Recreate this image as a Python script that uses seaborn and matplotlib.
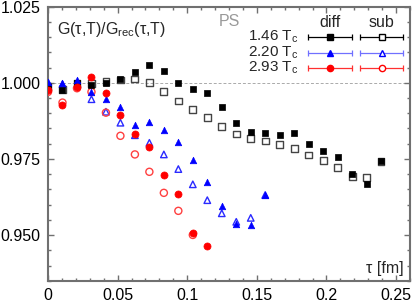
# %%
# 1. Import packages

import pandas as pd
import matplotlib
matplotlib.use("Agg")
import matplotlib.pyplot as plt
from matplotlib.ticker import MultipleLocator, FormatStrFormatter
import seaborn as sns

sns.set_style("ticks")
plt.rcParams['font.family'] = ['Liberation Sans', 'DejaVu Sans']
plt.rcParams['mathtext.fontset'] = 'custom'
plt.rcParams['mathtext.rm'] = 'Liberation Sans'
plt.rcParams['mathtext.it'] = 'Liberation Sans:italic'

# %%
# 2. Data

tau = [0.0, 0.0104, 0.0208, 0.0312, 0.0416, 0.0520, 0.0624, 0.0728,
       0.0832, 0.0936, 0.1040, 0.1144, 0.1248, 0.1352, 0.1456, 0.1560,
       0.1664, 0.1768, 0.1872, 0.1976, 0.2080, 0.2184, 0.2288, 0.2392]

# 1.46 Tc
t146_diff = [0.9987, 0.9975, 0.9998, 0.9992, 0.9998, 1.0011, 1.0035, 1.0058,
             1.0039, 1.0000, 0.9978, 0.9965, 0.9919, 0.9869, 0.9839, 0.9834,
             0.9830, 0.9834, 0.9799, 0.9777, 0.9757, 0.9700, 0.9668, 0.9743]
t146_sub = [0.9987, 0.9978, 0.9998, 0.9997, 1.0003, 1.0009, 1.0012, 1.0000,
            0.9970, 0.9940, 0.9913, 0.9887, 0.9856, 0.9832, 0.9818, 0.9809,
            0.9798, 0.9785, 0.9763, 0.9744, 0.9723, 0.9692, 0.9689, 0.9743]

# 2.20 Tc
t220_diff = [1.0003, 0.9998, 1.0009, 0.9970, 0.9948, 0.9919, 0.9863, 0.9872,
             0.9845, 0.9807, 0.9747, 0.9675, 0.9597, 0.9537, 0.9533, 0.9632]
t220_sub = [0.9998, 0.9995, 0.9990, 0.9946, 0.9905, 0.9869, 0.9828, 0.9803,
            0.9765, 0.9717, 0.9667, 0.9615, 0.9572, 0.9544, 0.9557, 0.9632]

# 2.93 Tc
t293_diff = [0.9976, 0.9926, 0.9985, 1.0018, 0.9965, 0.9894, 0.9832, 0.9788,
             0.9696, 0.9635, 0.9508, 0.9466]
t293_sub = [0.9970, 0.9935, 0.9982, 0.9970, 0.9902, 0.9826, 0.9765, 0.9708,
            0.9639, 0.9580, 0.9501]

temps = ["1.46", "2.20", "2.93"]
series = {
    "1.46": (t146_diff, t146_sub),
    "2.20": (t220_diff, t220_sub),
    "2.93": (t293_diff, t293_sub),
}

# %%
# 3. Styles

styles = {
    "1.46": dict(marker="s", color="black", open_color="#444444", line="black", size=24),
    "2.20": dict(marker="^", color="#0000ff", open_color="#2a2aff", line="#7070ff", size=22),
    "2.93": dict(marker="o", color="#ff0000", open_color="#ff4040", line="#ff3030", size=26),
}

# %%
# 4. Draw the graph

fig = plt.figure(figsize=(4.15, 3.04), dpi=100)
ax = fig.add_axes([0.1157, 0.0757, 0.8723, 0.9029])

ax.axhline(1.0, color="#aaaaaa", lw=0.7, ls=(0, (3, 2)), zorder=0)

for T in temps:
    diff, sub = series[T]
    st = styles[T]
    df_sub = pd.DataFrame({"tau": tau[:len(sub)], "ratio": sub})
    df_diff = pd.DataFrame({"tau": tau[:len(diff)], "ratio": diff})
    sns.scatterplot(data=df_sub, x="tau", y="ratio", ax=ax, marker=st["marker"],
                    s=st["size"], color=st["open_color"], facecolor="none",
                    edgecolor=st["open_color"], linewidth=1.0, zorder=3)
    sns.scatterplot(data=df_diff, x="tau", y="ratio", ax=ax, marker=st["marker"],
                    s=st["size"], color=st["color"], edgecolor=st["color"],
                    linewidth=0.5, zorder=4)

# Axes
ax.set_xlim(0, 0.26)
ax.set_ylim(0.935, 1.025)
ax.xaxis.set_major_locator(MultipleLocator(0.05))
ax.xaxis.set_minor_locator(MultipleLocator(0.01))
ax.yaxis.set_major_locator(MultipleLocator(0.025))
ax.yaxis.set_minor_locator(MultipleLocator(0.005))
ax.xaxis.set_major_formatter(FormatStrFormatter("%g"))
ax.yaxis.set_major_formatter(FormatStrFormatter("%.3f"))
ax.set_xlabel("")
ax.set_ylabel("")
for sp in ax.spines.values():
    sp.set_visible(True)
    sp.set_color("#707070")
    sp.set_linewidth(1.5)
ax.tick_params(which="both", direction="in", top=True, right=True,
               color="#707070", labelsize=11.5, labelcolor="black")
ax.tick_params(which="major", length=4, width=1)
ax.tick_params(which="minor", length=2.5, width=1)
ax.tick_params(axis="y", pad=5.5)
ax.tick_params(axis="x", pad=5)

# Texts
ax.text(0.025, 0.915, "G(τ,T)/G$_{\\rm rec}$(τ,T)", transform=ax.transAxes,
        ha="left", va="center", fontsize=11.5)
ax.text(0.5, 0.944, "PS", transform=ax.transAxes, ha="center", va="center",
        fontsize=11.5, color="#999999")
ax.text(0.983, 0.047, "τ [fm]", transform=ax.transAxes, ha="right",
        va="center", fontsize=11.5)

# Custom legend
ax.text(0.779, 0.940, "diff", transform=ax.transAxes, ha="center", va="center", fontsize=11.5)
ax.text(0.920, 0.940, "sub", transform=ax.transAxes, ha="center", va="center", fontsize=11.5)
row_y = [0.888, 0.832, 0.775]
for T, yy in zip(temps, row_y):
    st = styles[T]
    ax.text(0.693, yy, T + " T$_{\\rm c}$", transform=ax.transAxes,
            ha="right", va="center", fontsize=11)
    for x0, x1, filled in [(0.718, 0.840, True), (0.862, 0.981, False)]:
        ax.plot([x0, x1], [yy, yy], transform=ax.transAxes, color=st["line"],
                lw=0.9, clip_on=False)
        ax.plot([x0, x1], [yy, yy], transform=ax.transAxes, color=st["line"],
                lw=0, marker="|", ms=4, mew=0.9, clip_on=False)
        ax.plot([(x0 + x1) / 2], [yy], transform=ax.transAxes, marker=st["marker"],
                ms=4.5, color=st["color"],
                mfc=st["color"] if filled else "white",
                mec=st["color"], mew=1.0, clip_on=False, zorder=5)

plt.savefig("out.png", dpi=100)
